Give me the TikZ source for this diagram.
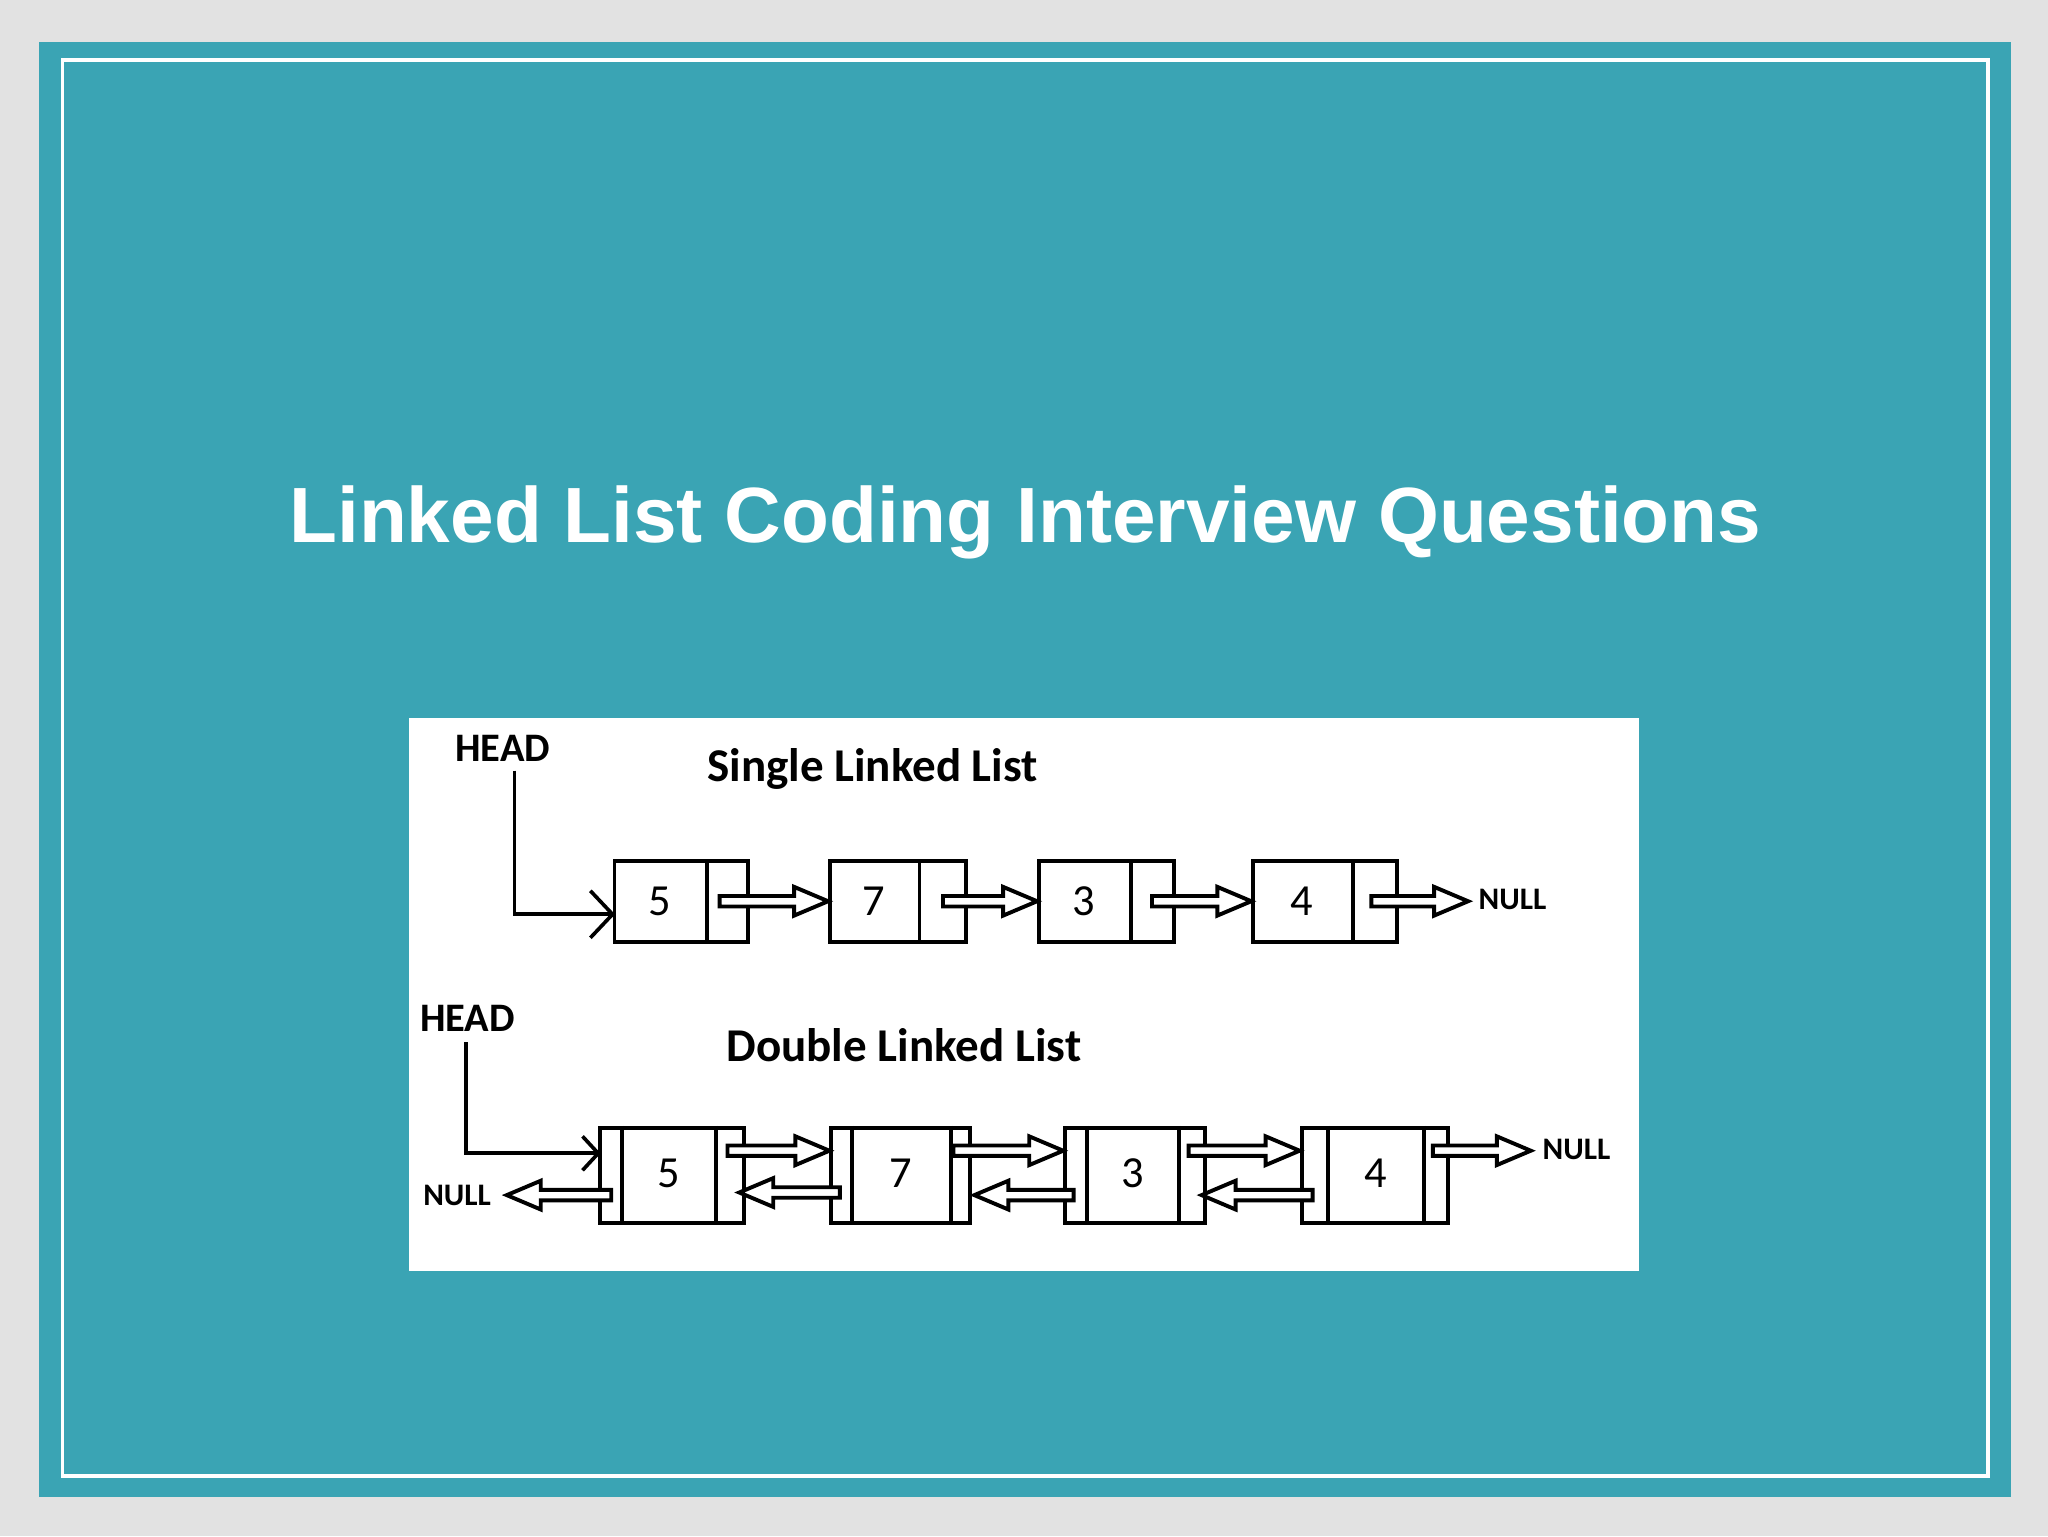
\documentclass[tikz,border=0pt]{standalone}
\usepackage{fontspec}
\setmainfont{Liberation Sans}
\newfontfamily\carl{Carlito}
\definecolor{teal0}{HTML}{3AA4B4}
\definecolor{bgg}{HTML}{E2E2E2}
\newcommand\harR[3]{\draw[line width=3pt,fill=white,line join=miter] (#1,{#3-4})--({#2-26},{#3-4})--({#2-26},{#3-11})--(#2,#3)--({#2-26},{#3+11})--({#2-26},{#3+4})--(#1,{#3+4})--cycle;}
\newcommand\harL[3]{\draw[line width=3pt,fill=white,line join=miter] (#1,{#3-4})--({#2+26},{#3-4})--({#2+26},{#3-11})--(#2,#3)--({#2+26},{#3+11})--({#2+26},{#3+4})--(#1,{#3+4})--cycle;}
\begin{document}
\begin{tikzpicture}[x=1pt,y=-1pt,
  cell/.style={draw,line width=3pt,inner sep=0pt,anchor=north west},
  lbl/.style={font=\carl\bfseries\fontsize{31}{33}\selectfont},
  ttl/.style={font=\carl\bfseries\fontsize{36}{38}\selectfont},
  num/.style={font=\carl\fontsize{34}{36}\selectfont},
  nul/.style={font=\carl\bfseries\fontsize{24}{26}\selectfont}]
\fill[bgg] (0,0) rectangle (1568,1176);
\fill[teal0] (30,32) rectangle (1540,1146);
\draw[white,line width=2.5pt] (48,46) rectangle (1522,1130);
\node[white,font=\bfseries\fontsize{60}{64}\selectfont] (title) at (785,400) {Linked List Coding Interview Questions};
\fill[white] (313,550) rectangle (1255,973);
% single list
\node[lbl] (h1) at (385,573) {HEAD};
\node[ttl] (t1) at (668,589) {Single Linked List};
\foreach \n/\a/\d/\b/\v in {a/469/541/571/5,b/634/704/738/7,c/794/866/897/3,d/958/1036/1068/4}{
  \node[cell,minimum width={(\b-\a)*1pt},minimum height=62pt] (s\n) at (\a,658) {};
  \draw[line width=3pt] (\d,658)--(\d,720);
  \node[num] (sv\n) at ({(\a+\d)/2},690) {\v};
}
\node[nul] (n1) at (1158,689) {NULL};
\draw[line width=2.8pt] (394,590) -- (394,700) -- (sa.west|-0,700);
\draw[line width=2.8pt] (452,682)--(469,700)--(452,718);
\harR{551}{634}{690}
\harR{722}{794}{690}
\harR{882}{958}{690}
\harR{1050}{1124}{690}
% double list
\node[lbl] (h2) at (358,780) {HEAD};
\node[ttl] (t2) at (692,800) {Double Linked List};
\foreach \n/\a/\l/\r/\b/\v in {a/458/476/548/568/5,b/635/652/728/741/7,c/814/832/903/921/3,d/995/1017/1090/1107/4}{
  \node[cell,minimum width={(\b-\a)*1pt},minimum height=73pt] (d\n) at (\a,862) {};
  \draw[line width=3pt] (\l,862)--(\l,935);
  \draw[line width=3pt] (\r,862)--(\r,935);
  \node[num] (dv\n) at ({(\l+\r)/2},898) {\v};
}
\node[nul] (n2) at (350,915) {NULL};
\node[nul] (n3) at (1207,880) {NULL};
\draw[line width=2.8pt] (357,798) -- (357,883) -- (da.west|-0,883);
\draw[line width=2.8pt] (446,870)--(458,883)--(446,896);
\harR{557}{635}{881}
\harR{730}{814}{881}
\harR{910}{995}{881}
\harR{1097}{1172}{881}
\harL{468}{388}{915}
\harL{643}{566}{913}
\harL{822}{746}{915}
\harL{1005}{920}{915}
\end{tikzpicture}
\end{document}
